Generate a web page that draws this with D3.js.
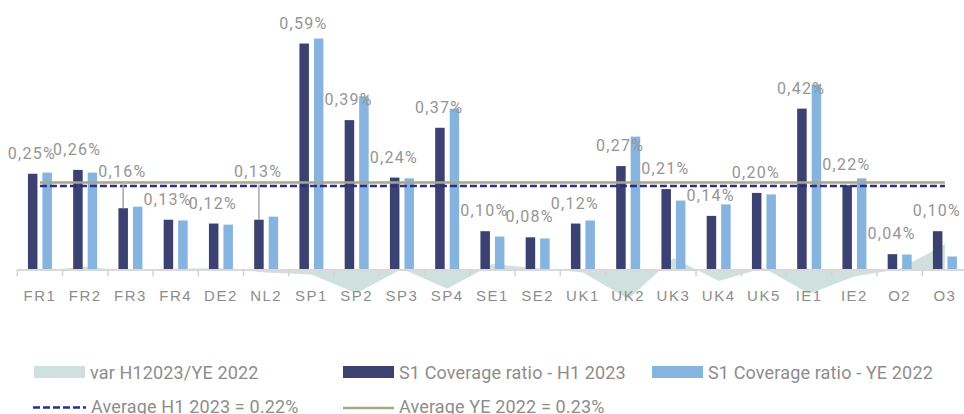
<!DOCTYPE html>
<html>
<head>
<meta charset="utf-8">
<style>
  body { margin: 0; background: #fff; }
  svg { display: block; font-family: Roboto, "DejaVu Sans", sans-serif; }
</style>
</head>
<body>
<svg id="chart" width="964" height="414"></svg>
<script src="https://cdn.jsdelivr.net/npm/d3@7"></script>
<script>
// categories and values (in %)
var categories = ["FR1","FR2","FR3","FR4","DE2","NL2","SP1","SP2","SP3","SP4","SE1","SE2","UK1","UK2","UK3","UK4","UK5","IE1","IE2","O2","O3"];
var h1_2023 = [0.25,0.26,0.16,0.13,0.12,0.13,0.59,0.39,0.24,0.37,0.10,0.084,0.12,0.27,0.21,0.14,0.20,0.42,0.22,0.04,0.10];
var ye_2022 = [0.253,0.253,0.164,0.128,0.117,0.138,0.603,0.452,0.238,0.42,0.086,0.081,0.128,0.347,0.18,0.17,0.196,0.483,0.238,0.039,0.034];
var avgH1 = 0.218;
var avgYE = 0.227;
var legendLabels = ["var H12023/YE 2022","S1 Coverage ratio - H1 2023","S1 Coverage ratio - YE 2022","Average H1 2023 = 0.22%","Average YE 2022 = 0.23%"];

// labels moved above the average lines, with a leader line
var raisedLabels = ["FR3","NL2"];

var colDark = "#3b4170", colLight = "#86b4df", colVar = "#d0e0dc",
    colAvgH1 = "#2c2f80", colAvgYE = "#a9a682", colText = "#8d8d8d";

var svg = d3.select("#chart");

var x = d3.scaleBand().domain(categories).range([17.3, 17.3 + 21 * 45.25]);
var y = d3.scaleLinear().domain([0, 0.6]).range([269.5, 269.5 - 0.6 * 383]);
var cx = function(d) { return x(d) + x.bandwidth() / 2; };

var barW = 9.5, gap = 5;

var rows = categories.map(function(c, i) {
  return { cat: c, h1: h1_2023[i], ye: ye_2022[i], v: h1_2023[i] - ye_2022[i] };
});

// variation area
var area = d3.area()
  .x(function(d) { return cx(d.cat); })
  .y0(y(0))
  .y1(function(d) { return y(d.v); });
svg.append("path").datum(rows).attr("d", area).attr("fill", colVar);

// bars
svg.append("g").selectAll("rect").data(rows).join("rect")
  .attr("x", function(d) { return cx(d.cat) - gap / 2 - barW; })
  .attr("width", barW)
  .attr("y", function(d) { return y(d.h1); })
  .attr("height", function(d) { return y(0) - y(d.h1); })
  .attr("fill", colDark);
svg.append("g").selectAll("rect").data(rows).join("rect")
  .attr("x", function(d) { return cx(d.cat) + gap / 2; })
  .attr("width", barW)
  .attr("y", function(d) { return y(d.ye); })
  .attr("height", function(d) { return y(0) - y(d.ye); })
  .attr("fill", colLight);

// axis
var axis = svg.append("g").attr("transform", "translate(0," + y(0) + ")")
  .call(d3.axisBottom(x).tickSize(0).tickSizeOuter(0).tickPadding(21));
axis.select(".domain").attr("stroke", "#d9d9d9").attr("stroke-width", 2);
axis.selectAll("text")
  .attr("fill", colText)
  .style("font-size", "15px")
  .style("letter-spacing", "1.5px");
svg.append("g").selectAll("line").data(categories.concat(["end"])).join("line")
  .attr("x1", function(d) { return d === "end" ? x.range()[1] : x(d); })
  .attr("x2", function(d) { return d === "end" ? x.range()[1] : x(d); })
  .attr("y1", y(0)).attr("y2", y(0) + 7)
  .attr("stroke", "#d4d4d4").attr("stroke-width", 1.5);

// average lines
var avgLine = function(v) {
  return d3.line().x(function(d) { return cx(d); }).y(y(v))(categories);
};
svg.append("path").attr("d", avgLine(avgYE))
  .attr("fill", "none").attr("stroke", colAvgYE).attr("stroke-width", 2.5);
svg.append("path").attr("d", avgLine(avgH1))
  .attr("fill", "none").attr("stroke", colAvgH1).attr("stroke-width", 2.5)
  .attr("stroke-dasharray", "7,3");

// data labels
var fmt = function(v) { return d3.format(".2f")(v).replace(".", ",") + "%"; };
var labY = function(d) {
  return raisedLabels.indexOf(d.cat) >= 0 ? y(avgYE) - 6 : y(d.h1) - 15;
};
svg.append("g").selectAll("line").data(rows.filter(function(d) { return raisedLabels.indexOf(d.cat) >= 0; }))
  .join("line")
  .attr("x1", function(d) { return cx(d.cat) - gap / 2 - barW / 2; })
  .attr("x2", function(d) { return cx(d.cat) - gap / 2 - barW / 2; })
  .attr("y1", function(d) { return labY(d) + 8; })
  .attr("y2", function(d) { return y(d.h1); })
  .attr("stroke", "#a6a6a6").attr("stroke-width", 1.5);
svg.append("g").selectAll("text").data(rows).join("text")
  .attr("x", function(d) { return cx(d.cat) - 8; })
  .attr("y", labY)
  .attr("text-anchor", "middle")
  .attr("fill", "#959595")
  .style("font-size", "16px")
  .style("letter-spacing", "1.3px")
  .text(function(d) { return fmt(d.h1); });

// legend
var leg = svg.append("g").style("font-size", "18px").style("letter-spacing", "0.15px").attr("fill", colText);
var sw = [{x: 34, c: colVar}, {x: 343, c: colDark}, {x: 652, c: colLight}];
sw.forEach(function(s, i) {
  leg.append("rect").attr("x", s.x).attr("y", 366).attr("width", 51).attr("height", 12).attr("fill", s.c);
  leg.append("text").attr("x", s.x + 56).attr("y", 378.5).text(legendLabels[i]);
});
leg.append("line").attr("x1", 33).attr("x2", 86).attr("y1", 407.5).attr("y2", 407.5)
  .attr("stroke", colAvgH1).attr("stroke-width", 2.5).attr("stroke-dasharray", "7,3");
leg.append("text").attr("x", 91).attr("y", 413).text(legendLabels[3]);
leg.append("line").attr("x1", 343).attr("x2", 394).attr("y1", 408).attr("y2", 408)
  .attr("stroke", colAvgYE).attr("stroke-width", 2.5);
leg.append("text").attr("x", 399).attr("y", 413).text(legendLabels[4]);
</script>
</body>
</html>
